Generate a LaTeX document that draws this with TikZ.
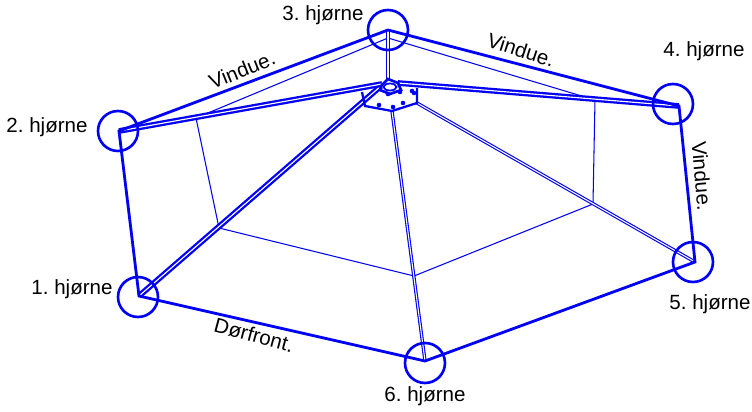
\documentclass[tikz,border=0pt]{standalone}
\usepackage{fontspec}
\setmainfont{Liberation Sans}
\usetikzlibrary{shapes.geometric}
\definecolor{tentblue}{RGB}{0,0,245}
\tikzset{
  wall/.style={draw=tentblue,line width=1.6pt},
  frame/.style={draw=tentblue,line width=0.6pt},
  rafter/.style={draw=tentblue,line width=1.3pt,double=white,double distance=0.65pt},
  thinrafter/.style={draw=tentblue,line width=0.65pt,double=white,double distance=0.6pt},
  ring/.style={draw=tentblue,circle,line width=1.5pt,inner sep=0pt,minimum size=0.8cm},
  peg/.style={fill=tentblue,circle,inner sep=0pt,minimum size=2.6pt},
  lbl/.style={inner sep=0pt,font=\fontsize{11.7}{13}\selectfont}
}
\begin{document}
\frenchspacing
\begin{tikzpicture}[x=0.02cm,y=-0.02cm]
  \useasboundingbox (0,0) rectangle (752,412);
  % corners of the outer wall
  \coordinate (c1) at (139,296);
  \coordinate (c2) at (119,131);
  \coordinate (c3) at (388,30);
  \coordinate (c4) at (679,106);
  \coordinate (c5) at (695,262);
  \coordinate (c6) at (425,361);
  % inner frame
  \coordinate (f2) at (196,118);
  \coordinate (f3) at (388,38);
  \coordinate (f4) at (595,100);
  \coordinate (f5) at (593,204);
  \coordinate (f6) at (414,276);
  \coordinate (f1) at (219,228);
  \draw[frame] (f1) -- (f2) -- (f3) -- (f4) -- (f5) -- (f6) -- cycle;
  % hub points
  \coordinate (h1) at (381,86);
  \coordinate (h2) at (382,84);
  \coordinate (h3) at (388,79);
  \coordinate (h4) at (398,83);
  \coordinate (h5) at (417,103);
  \coordinate (h6) at (392,111);
  \coordinate (k1) at (362,92);
  \coordinate (k2) at (365,106);
  \coordinate (k3) at (417,88);
  % rafters
  \draw[rafter] (c1) -- (h1);
  \draw[rafter] (c2) -- (h2);
  \draw[rafter] (c4) -- (h4);
  \draw[thinrafter] (c3) -- (h3);
  \draw[thinrafter] (c5) -- (h5);
  \draw[thinrafter] (c6) -- (h6);
  % outer wall
  \draw[wall] (c1) -- (c2) -- (c3) -- (c4) -- (c5) -- (c6) -- cycle;
  % hub
  \draw[wall,line width=1.3pt] (k1) -- (k2) -- (h6) -- (h5) -- (k3);
  \draw[wall,line width=1.5pt] (h1) -- (h3) -- (h4) -- (401,90) -- (390,94) -- (380,90) -- cycle;
  \node[draw=tentblue,fill=white,ellipse,line width=1pt,inner sep=0pt,minimum width=0.26cm,minimum height=0.14cm] (hub) at (390,87) {};
  \node[peg] (p1) at (379,105) {};
  \node[peg] (p2) at (393,107) {};
  \node[peg] (p3) at (403,103) {};
  \node[peg] (p4) at (412,91) {};
  \node[peg] (p5) at (414,93) {};
  \node[peg] (p6) at (388,94) {};
  \node[peg] (p7) at (400,92) {};
  % rings round the corners
  \node[ring] (r1) at (138,297) {};
  \node[ring] (r2) at (118,131) {};
  \node[ring] (r3) at (388,30) {};
  \node[ring] (r4) at (673,104) {};
  \node[ring] (r5) at (693,262) {};
  \node[ring] (r6) at (425,363) {};
  % labels
  \node[lbl] (n1) at (72,289) {1. hjørne};
  \node[lbl] (n2) at (47,127) {2. hjørne};
  \node[lbl] (n3) at (323,15) {3. hjørne};
  \node[lbl] (n4) at (704,51) {4. hjørne};
  \node[lbl] (n5) at (710,304) {5. hjørne};
  \node[lbl] (n6) at (425,396) {6. hjørne};
  \node[lbl,rotate=22] (v1) at (242,70) {Vindue.};
  \node[lbl,rotate=-18] (v2) at (521,50) {Vindue.};
  \node[lbl,rotate=-85] (v3) at (702,176) {Vindue.};
  \node[lbl,rotate=-15] (d1) at (254,335) {Dørfront.};
\end{tikzpicture}
\end{document}
